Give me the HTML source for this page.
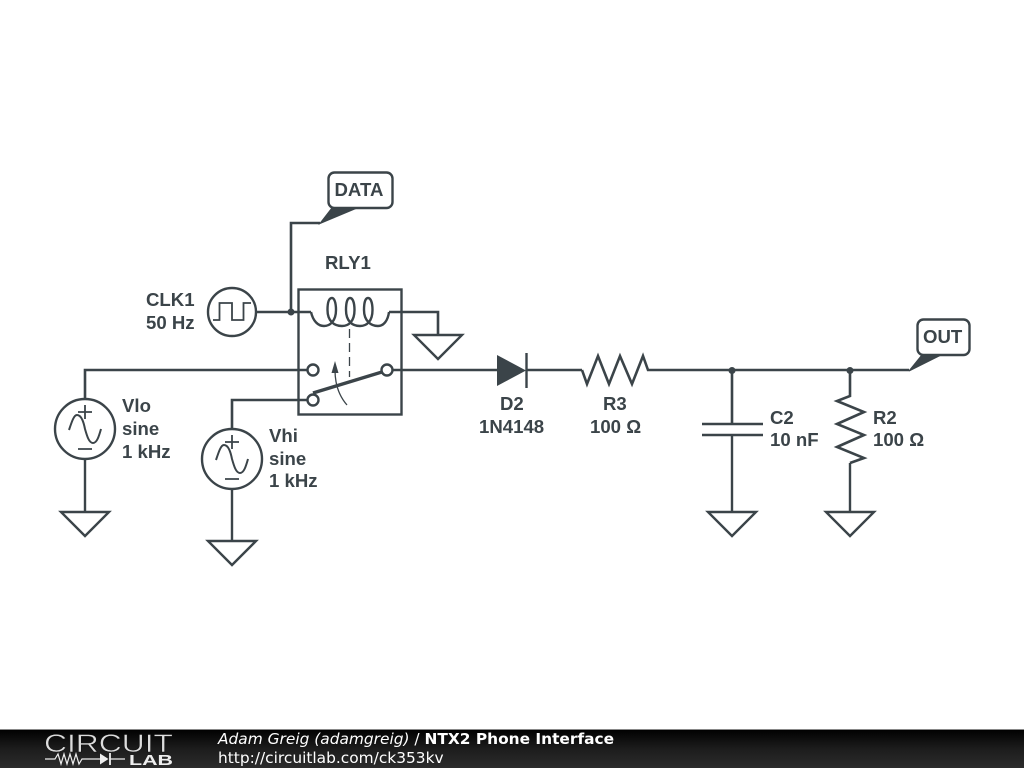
<!DOCTYPE html>
<html>
<head>
<meta charset="utf-8">
<style>
html,body{margin:0;padding:0;background:#fff;width:1024px;height:768px;overflow:hidden}
svg{display:block}
.t{font-family:"Liberation Sans",sans-serif;font-weight:bold;font-size:18.6px;fill:#3b4449}
.f{font-family:"DejaVu Sans",sans-serif;font-size:15.4px;fill:#fff}
</style>
</head>
<body>
<svg width="1024" height="768" viewBox="0 0 1024 768" xmlns="http://www.w3.org/2000/svg">
<defs>
<linearGradient id="bar" x1="0" y1="0" x2="0" y2="1">
<stop offset="0" stop-color="#000"/><stop offset="0.5" stop-color="#1c1c1c"/><stop offset="1" stop-color="#2c2c2c"/>
</linearGradient>
</defs>
<rect width="1024" height="768" fill="#fff"/>
<g fill="none" stroke="#3b4449" stroke-width="2.6" stroke-linejoin="miter">
<!-- DATA -->
<path d="M291 312V223H320"/>
<rect x="328.500" y="172.500" width="64" height="35.500" rx="6" fill="#fff" stroke-width="2.400"/>
<!-- CLK -->
<circle cx="232" cy="312" r="24" stroke-width="2.400"/>
<path d="M213 320H219.500V303H232V320H243.500V303H251" stroke-width="1.800"/>
<path d="M256 312H311"/>
<!-- relay box -->
<rect x="298.500" y="289.500" width="103" height="125" stroke-width="2.400"/>
<path d="M311 312C313 321 318 326 324 326C330 326 336 321 336 310C336 302 334 298 332 298C329 298 327.500 302 327.500 310C327.500 321 334 326 342 326C349 326 354.500 321 354.500 310C354.500 302 352.500 298 350 298C347.500 298 346 302 346 310C346 321 352 326 360 326C367 326 372.500 321 372.500 310C372.500 302 370.500 298 368 298C365.500 298 364 302 364 310C364 321 371 326 378 326C384 326 388 320 389 312" stroke-width="2.400"/>
<path d="M389 312H438V335"/>
<path d="M349.500 329V377" stroke-width="1.300" stroke-dasharray="9 5"/>
<!-- grounds -->
<path d="M414 335H462L438 359Z" stroke-width="2.400"/>
<path d="M85 460V512M61 512H109L85 536Z" stroke-width="2.400"/>
<path d="M232 489V541M208 541H256L232 565Z" stroke-width="2.400"/>
<path d="M732 435V512M708 512H756L732 536Z" stroke-width="2.400"/>
<path d="M850 463V512M826 512H874L850 536Z" stroke-width="2.400"/>
<!-- Wires to switch -->
<path d="M85 399V370H307"/>
<path d="M232 430V400H307"/>
<path d="M393 370H497M527 370H582"/>
<circle cx="313" cy="370" r="5.500" stroke-width="2.400"/>
<circle cx="313" cy="400" r="5.500" stroke-width="2.400"/>
<circle cx="387" cy="370" r="5.500" stroke-width="2.400"/>
<path d="M313 393L382 372" stroke-width="3.400"/>
<path d="M347 405C340 397 335 385 335 370" stroke-width="1.300"/>
<!-- Vlo -->
<circle cx="85" cy="429" r="30" stroke-width="2.400"/>
<path d="M78 412H92M85 405V419M78 449H92" stroke-width="1.800"/>
<path d="M69 430C72 421 74 415 77 415C82 415 84 424 85 429C87 436 89 443 93 443C97 443 99 436 101 429" stroke-width="2"/>
<!-- Vhi -->
<circle cx="232" cy="459" r="30" stroke-width="2.400"/>
<path d="M225 442H239M232 435V449M225 479H239" stroke-width="1.800"/>
<path d="M216 460C219 451 221 445 224 445C229 445 231 454 232 459C234 466 236 473 240 473C244 473 246 466 248 459" stroke-width="2"/>
<!-- Diode bar -->
<path d="M526.500 353V388" stroke-width="2.400"/>
<!-- R3 -->
<path d="M582 370L587 384L598 356L609 384L620 356L632 384L643 356L648 370H909" stroke-width="2.600"/>
<!-- C2 -->
<path d="M732 370V424"/>
<path d="M702 424H763M702 435H763" stroke-width="2.600"/>
<!-- R2 -->
<path d="M850 370V396L837 401L864 412L837 424L864 435L837 447L864 458L850 463"/>
<!-- OUT -->
<rect x="917.500" y="319.500" width="52" height="35.500" rx="6" fill="#fff" stroke-width="2.400"/>
</g>
<g fill="#3b4449">
<path d="M320 223.500L332 208H357Z" stroke="#3b4449" stroke-width="1.200"/>
<path d="M909 371L922 355H941Z" stroke="#3b4449" stroke-width="1.200"/>
<circle cx="291" cy="312" r="3.500"/>
<circle cx="732" cy="370.500" r="3.500"/>
<circle cx="850" cy="370.500" r="3.500"/>
<path d="M497 355L526 370.500L497 386Z"/>
<path d="M335 361L331.500 373H338.500Z"/>
</g>
<g>
<text class="t" x="334.500" y="196">DATA</text>
<text class="t" x="325" y="269">RLY1</text>
<text class="t" x="146" y="306">CLK1</text>
<text class="t" x="146" y="329">50 Hz</text>
<text class="t" x="122" y="412">Vlo</text>
<text class="t" x="122" y="435">sine</text>
<text class="t" x="122" y="458">1 kHz</text>
<text class="t" x="269" y="442">Vhi</text>
<text class="t" x="269" y="465">sine</text>
<text class="t" x="269" y="487">1 kHz</text>
<text class="t" x="500" y="410">D2</text>
<text class="t" x="479" y="433">1N4148</text>
<text class="t" x="603" y="410">R3</text>
<text class="t" x="590" y="433">100 Ω</text>
<text class="t" x="770" y="424">C2</text>
<text class="t" x="770" y="446">10 nF</text>
<text class="t" x="873" y="424">R2</text>
<text class="t" x="873" y="446">100 Ω</text>
<text class="t" x="923" y="343">OUT</text>
</g>
<!-- footer -->
<rect x="0" y="729" width="1024" height="39" fill="url(#bar)"/>
<rect x="0" y="729" width="1024" height="1" fill="#888"/>
<text x="44" y="752" font-family="Liberation Sans, sans-serif" font-size="25" fill="#ddd" stroke="#111" stroke-width="0.5" textLength="129" lengthAdjust="spacingAndGlyphs">CIRCUIT</text>
<text x="129" y="765" font-family="Liberation Sans, sans-serif" font-weight="bold" font-size="15" fill="#eee" textLength="44" lengthAdjust="spacingAndGlyphs">LAB</text>
<g fill="none" stroke="#eee" stroke-width="1.200">
<path d="M45 759H55L58 754L61 764L64 754L67 764L70 754L73 764L76 754L79 764L82 759H100M110 759H125"/>
<path d="M110 753V765" stroke-width="1.800"/>
</g>
<path d="M100 753.500L108.500 759L100 764.500Z" fill="#eee"/>
<text class="f" x="218" y="744"><tspan font-style="italic">Adam Greig (adamgreig)</tspan> / <tspan font-weight="bold">NTX2 Phone Interface</tspan></text>
<text class="f" x="218" y="763">http://circuitlab.com/ck353kv</text>
</svg>
</body>
</html>
